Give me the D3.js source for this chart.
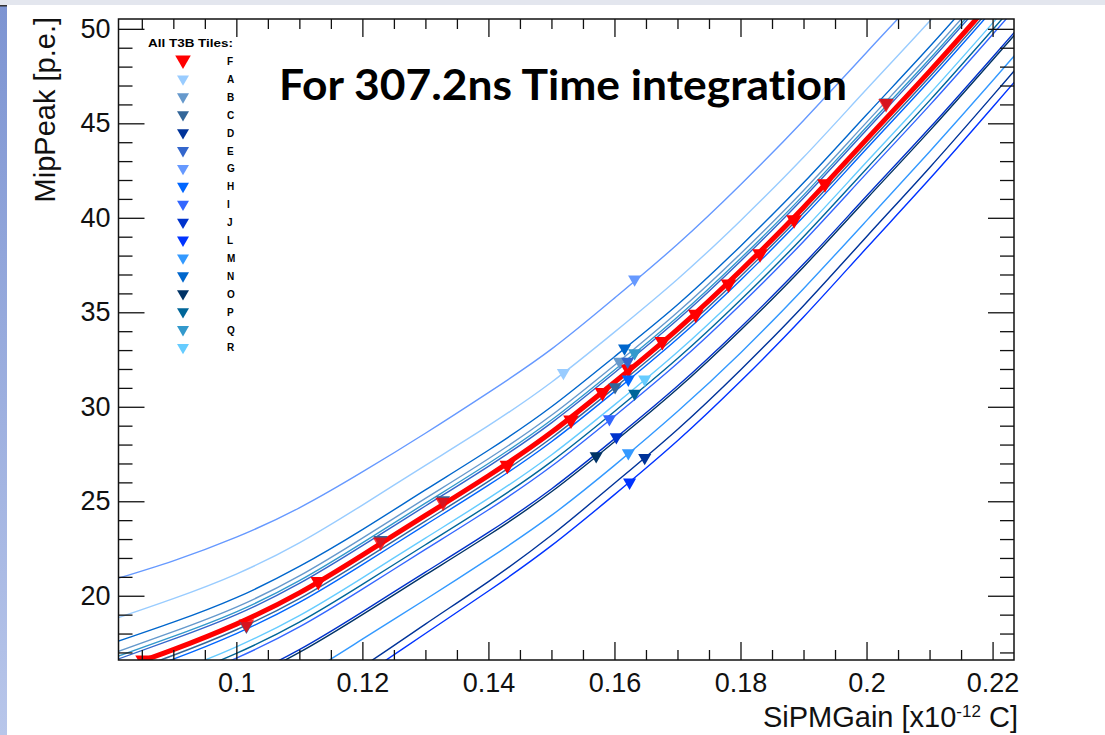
<!DOCTYPE html>
<html>
<head>
<meta charset="utf-8">
<script src="https://cdn.jsdelivr.net/npm/d3@7"></script>
<style>
  body { margin: 0; background: #fff; }
  svg { display: block; font-family: "Liberation Sans", Arial, sans-serif; }
</style>
</head>
<body>
<svg id="graph" width="1105" height="735"></svg>
<script>
// tiles in legend order and their colours
var tiles = ['F', 'A', 'B', 'C', 'D', 'E', 'G', 'H', 'I', 'J', 'L', 'M', 'N', 'O', 'P', 'Q', 'R'];
var tileColors = ['#ff0000', '#99ccff', '#6699cc', '#336699', '#003399', '#3366cc', '#6699ff', '#0066ff',
    '#3366ff', '#0033cc', '#0033ff', '#3399ff', '#0066cc', '#003366', '#006699', '#3399cc', '#66ccff'];

// axis ranges and ticks
var gainRange = [0.0813, 0.2234];
var peakRange = [16.6, 50.52];
var xTicks = [0.1, 0.12, 0.14, 0.16, 0.18, 0.2, 0.22];
var xTickLabels = ['0.1', '0.12', '0.14', '0.16', '0.18', '0.2', '0.22'];
var yTicks = [20, 25, 30, 35, 40, 45, 50];

// MipPeak vs SiPMGain curves, read at these gains
var gains = [0.08, 0.09, 0.10, 0.11, 0.12, 0.13, 0.14, 0.15, 0.16, 0.17, 0.18, 0.19, 0.20, 0.21, 0.22, 0.23];
var peakF = [15.95, 17.15, 18.5, 20.15, 22.15, 24.25, 26.35, 28.65, 31.3, 34.1, 37.2, 40.55, 44.15, 47.75, 51.5, 55.3];
var peakA = [18.7, 19.85, 21.15, 22.8, 24.8, 26.9, 29.0, 31.3, 33.95, 36.75, 39.85, 43.2, 46.8, 50.4, 54.15, 57.95];
var peakB = [16.9, 18.1, 19.4, 21.05, 23.05, 25.15, 27.25, 29.55, 32.2, 35.0, 38.1, 41.45, 45.05, 48.65, 52.4, 56.2];
var peakC = [15.65, 16.85, 18.2, 19.85, 21.85, 23.95, 26.05, 28.35, 31.0, 33.8, 36.9, 40.25, 43.85, 47.45, 51.2, 55.0];
var peakD = [9.95, 11.15, 12.55, 14.25, 16.25, 18.5, 20.75, 23.2, 25.95, 28.8, 31.95, 35.35, 39.0, 42.65, 46.45, 50.3];
var peakE = [16.5, 17.7, 19.0, 20.65, 22.65, 24.75, 26.85, 29.15, 31.8, 34.6, 37.7, 41.05, 44.65, 48.25, 52.0, 55.8];
var peakG = [20.8, 21.85, 23.1, 24.65, 26.55, 28.6, 30.75, 33.05, 35.75, 38.6, 41.75, 45.15, 48.75, 52.35, 56.1, 59.9];
var peakH = [15.45, 16.65, 18.0, 19.65, 21.65, 23.75, 25.85, 28.15, 30.8, 33.6, 36.7, 40.05, 43.65, 47.25, 51.0, 54.8];
var peakI = [14.15, 15.35, 16.7, 18.35, 20.35, 22.45, 24.55, 26.85, 29.5, 32.3, 35.4, 38.75, 42.35, 45.95, 49.7, 53.5];
var peakJ = [12.95, 14.15, 15.5, 17.15, 19.15, 21.25, 23.35, 25.65, 28.3, 31.1, 34.2, 37.55, 41.15, 44.75, 48.5, 52.3];
var peakL = [9.35, 10.55, 11.95, 13.65, 15.75, 18.0, 20.25, 22.65, 25.35, 28.2, 31.35, 34.75, 38.4, 42.05, 45.85, 49.7];
var peakM = [11.45, 12.65, 14.0, 15.65, 17.7, 19.8, 21.95, 24.25, 26.9, 29.75, 32.85, 36.25, 39.85, 43.5, 47.25, 51.1];
var peakN = [17.45, 18.6, 19.9, 21.55, 23.5, 25.6, 27.7, 30.0, 32.65, 35.4, 38.5, 41.85, 45.45, 49.05, 52.8, 56.6];
var peakO = [12.8, 14.0, 15.35, 17.0, 19.0, 21.1, 23.2, 25.5, 28.15, 30.95, 34.05, 37.4, 41.0, 44.6, 48.35, 52.15];
var peakP = [14.4, 15.6, 16.95, 18.6, 20.6, 22.7, 24.8, 27.1, 29.75, 32.55, 35.65, 39.0, 42.6, 46.2, 49.95, 53.75];
var peakQ = [16.65, 17.85, 19.15, 20.8, 22.8, 24.9, 27.0, 29.3, 31.95, 34.75, 37.85, 41.2, 44.8, 48.4, 52.15, 55.95];
var peakR = [14.75, 15.95, 17.3, 18.95, 20.95, 23.05, 25.15, 27.45, 30.1, 32.9, 36.0, 39.35, 42.95, 46.55, 50.3, 54.1];

// measured points of tile F
var fMarkGain = [0.0852, 0.1016, 0.1130, 0.1229, 0.1328, 0.1430, 0.1531, 0.1581, 0.1622, 0.1676, 0.1729, 0.1781, 0.1831, 0.1885, 0.1934, 0.2031];
var fMarkPeak = [16.6, 18.5, 20.75, 22.85, 24.95, 26.9, 29.3, 30.75, 32.0, 33.45, 34.9, 36.5, 38.1, 39.9, 41.8, 46.05];
// F points with a blue point underneath
var mixedGain = [0.1016, 0.1229, 0.1328, 0.2031];
var mixedPeak = [18.4, 22.95, 25.05, 46.1];

// operating point of every other tile (order A..R, as legend)
var markTiles = ['A', 'B', 'C', 'D', 'E', 'G', 'H', 'I', 'J', 'L', 'M', 'N', 'O', 'P', 'Q', 'R'];
var markGain = [0.1519, 0.1608, 0.1601, 0.1648, 0.1621, 0.1632, 0.1622, 0.1592, 0.1603, 0.1624, 0.1622, 0.1616, 0.1571, 0.1632, 0.1632, 0.1648];
var markPeak = [31.8, 32.4, 31.05, 27.3, 32.4, 36.75, 31.45, 29.35, 28.4, 26.0, 27.55, 33.1, 27.4, 30.7, 32.85, 31.45];

var width = 1105, height = 735;
var margin = { top: 19, right: 91, bottom: 75, left: 118.5 };

var color = d3.scaleOrdinal().domain(tiles).range(tileColors);
var peaks = { F: peakF, A: peakA, B: peakB, C: peakC, D: peakD, E: peakE, G: peakG, H: peakH, I: peakI,
    J: peakJ, L: peakL, M: peakM, N: peakN, O: peakO, P: peakP, Q: peakQ, R: peakR };

var xScale = d3.scaleLinear().domain(gainRange).range([margin.left, width - margin.right]);
var yScale = d3.scaleLinear().domain(peakRange).range([height - margin.bottom, margin.top]);

var svg = d3.select('#graph');

// slide decoration: grey band on top, blue strip on the left
var defs = svg.append('defs');
var grad = defs.append('linearGradient').attr('id', 'strip').attr('x1', 0).attr('y1', 0).attr('x2', 0).attr('y2', 1);
grad.append('stop').attr('offset', '0%').attr('stop-color', '#7d94d2');
grad.append('stop').attr('offset', '100%').attr('stop-color', '#b8c6ea');
svg.append('rect').attr('x', 0).attr('y', 0).attr('width', width).attr('height', 5).attr('fill', '#e3e6ee');
svg.append('rect').attr('x', 0).attr('y', 6).attr('width', 7).attr('height', height - 6).attr('fill', 'url(#strip)');
svg.append('rect').attr('x', 0).attr('y', 5).attr('width', 7).attr('height', 1.5).attr('fill', '#333');

defs.append('clipPath').attr('id', 'frame')
    .append('rect')
    .attr('x', margin.left).attr('y', margin.top)
    .attr('width', width - margin.left - margin.right)
    .attr('height', height - margin.top - margin.bottom);

var line = d3.line()
    .x(function (d) { return xScale(d[0]); })
    .y(function (d) { return yScale(d[1]); })
    .curve(d3.curveNatural);

var plot = svg.append('g').attr('clip-path', 'url(#frame)');

// thin curves of tiles A..R
plot.selectAll('.curve')
    .data(markTiles)
    .enter().append('path')
    .attr('class', 'curve')
    .attr('fill', 'none')
    .attr('stroke', function (t) { return color(t); })
    .attr('stroke-width', 1.4)
    .attr('d', function (t) { return line(gains.map(function (g, i) { return [g, peaks[t][i]]; })); });

// thick curve of tile F
plot.append('path')
    .attr('fill', 'none')
    .attr('stroke', color('F'))
    .attr('stroke-width', 5)
    .attr('d', line(gains.map(function (g, i) { return [g, peakF[i]]; })));

var tri = function (size) { return d3.symbol().type(d3.symbolTriangle).size(size)(); };

plot.selectAll('.mixed')
    .data(mixedGain)
    .enter().append('path')
    .attr('class', 'mixed')
    .attr('d', tri(85))
    .attr('fill', '#336699')
    .attr('transform', function (g, i) { return 'translate(' + xScale(g) + ',' + yScale(mixedPeak[i]) + ') rotate(180)'; });

plot.selectAll('.fmark')
    .data(fMarkGain)
    .enter().append('path')
    .attr('class', 'fmark')
    .attr('d', tri(105))
    .attr('fill', color('F'))
    .attr('fill-opacity', function (g) { return mixedGain.indexOf(g) >= 0 ? 0.8 : 1; })
    .attr('transform', function (g, i) { return 'translate(' + xScale(g) + ',' + yScale(fMarkPeak[i]) + ') rotate(180)'; });

plot.selectAll('.tmark')
    .data(markTiles)
    .enter().append('path')
    .attr('class', 'tmark')
    .attr('d', tri(74))
    .attr('fill', function (t) { return color(t); })
    .attr('transform', function (t, i) { return 'translate(' + xScale(markGain[i]) + ',' + yScale(markPeak[i]) + ') rotate(180)'; });

// axes: major and minor ticks on all four sides, pointing inwards
var xMinor = d3.range(0.085, 0.2225, 0.005).filter(function (v) { return Math.abs(v * 50 - Math.round(v * 50)) > 1e-6; });
var yMinor = d3.range(17, 51, 1).filter(function (v) { return v % 5 !== 0; });
var bottom = height - margin.bottom, right = width - margin.right;

function tickStyle(g) {
    g.select('.domain').remove();
    g.selectAll('.tick line').attr('stroke', '#111').attr('stroke-width', 1.3);
    g.selectAll('.tick text').attr('fill', '#111');
}

svg.append('g').attr('transform', 'translate(0,' + bottom + ')')
    .call(d3.axisBottom(xScale).tickValues(xTicks).tickSize(-18).tickPadding(13)
        .tickFormat(function (d, i) { return xTickLabels[i]; }))
    .call(tickStyle)
    .selectAll('text').style('font-size', '27px').style('font-family', '"Liberation Sans", Arial, sans-serif');
svg.append('g').attr('transform', 'translate(0,' + bottom + ')')
    .call(d3.axisBottom(xScale).tickValues(xMinor).tickSize(-10).tickFormat(''))
    .call(tickStyle);
svg.append('g').attr('transform', 'translate(0,' + margin.top + ')')
    .call(d3.axisTop(xScale).tickValues(xTicks).tickSize(-18).tickFormat(''))
    .call(tickStyle);
svg.append('g').attr('transform', 'translate(0,' + margin.top + ')')
    .call(d3.axisTop(xScale).tickValues(xMinor).tickSize(-10).tickFormat(''))
    .call(tickStyle);

svg.append('g').attr('transform', 'translate(' + margin.left + ',0)')
    .call(d3.axisLeft(yScale).tickValues(yTicks).tickSize(-26).tickPadding(8))
    .call(tickStyle)
    .selectAll('text').style('font-size', '27px').style('font-family', '"Liberation Sans", Arial, sans-serif');
svg.append('g').attr('transform', 'translate(' + margin.left + ',0)')
    .call(d3.axisLeft(yScale).tickValues(yMinor).tickSize(-14).tickFormat(''))
    .call(tickStyle);
svg.append('g').attr('transform', 'translate(' + right + ',0)')
    .call(d3.axisRight(yScale).tickValues(yTicks).tickSize(-26).tickFormat(''))
    .call(tickStyle);
svg.append('g').attr('transform', 'translate(' + right + ',0)')
    .call(d3.axisRight(yScale).tickValues(yMinor).tickSize(-14).tickFormat(''))
    .call(tickStyle);

// frame
svg.append('rect')
    .attr('x', margin.left).attr('y', margin.top)
    .attr('width', right - margin.left).attr('height', bottom - margin.top)
    .attr('fill', 'none').attr('stroke', '#111').attr('stroke-width', 1.5);

// axis titles
svg.append('text')
    .attr('transform', 'translate(55,17) rotate(-90)')
    .attr('text-anchor', 'end')
    .style('font-size', '29px')
    .attr('fill', '#111')
    .text('MipPeak [p.e.]');

var xt = svg.append('text')
    .attr('x', 1018).attr('y', 727)
    .attr('text-anchor', 'end')
    .style('font-size', '29px')
    .attr('fill', '#111');
xt.append('tspan').text('SiPMGain [x10');
xt.append('tspan').attr('dy', -10).style('font-size', '17px').text('-12');
xt.append('tspan').attr('dy', 10).text(' C]');

// legend
var legend = svg.append('g').attr('class', 'legend');
legend.append('text')
    .attr('x', 148).attr('y', 47)
    .attr('textLength', 85).attr('lengthAdjust', 'spacingAndGlyphs')
    .style('font-size', '11px').style('font-weight', 'bold')
    .text('All T3B Tiles:');
var entry = legend.selectAll('.entry')
    .data(tiles)
    .enter().append('g')
    .attr('class', 'entry')
    .attr('transform', function (t, i) { return 'translate(0,' + (61 + i * 17.9) + ')'; });
entry.append('path')
    .attr('d', function (t) { return t === 'F' ? tri(105) : tri(62); })
    .attr('fill', function (t) { return color(t); })
    .attr('transform', function (t) { return 'translate(183,' + (t === 'F' ? -1 : 0) + ') rotate(180)'; });
entry.append('text')
    .attr('x', 227).attr('y', 4)
    .style('font-size', '10px').style('font-weight', 'bold')
    .text(function (t) { return t; });

// title
svg.append('text')
    .attr('x', 279).attr('y', 100)
    .attr('textLength', 568).attr('lengthAdjust', 'spacingAndGlyphs')
    .style('font-family', 'Lato, "Open Sans", sans-serif')
    .style('font-weight', 'bold')
    .style('font-size', '42px')
    .style('font-variant-ligatures', 'none')
    .style('font-feature-settings', '"liga" 0')
    .attr('fill', '#000')
    .text('For 307.2ns Time integration');
</script>
</body>
</html>
